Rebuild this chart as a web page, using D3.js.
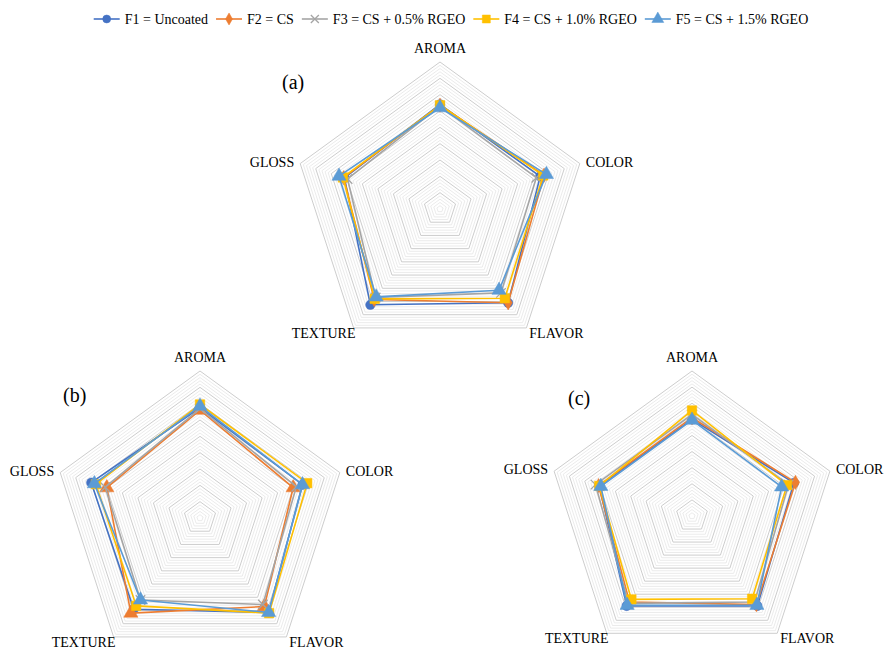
<!DOCTYPE html>
<html>
<head>
<meta charset="utf-8">
<script src="https://cdn.jsdelivr.net/npm/d3@7"></script>
<style>
  html, body { margin: 0; padding: 0; background: #ffffff; }
  svg { display: block; font-family: "Liberation Serif", "DejaVu Serif", serif; }
</style>
</head>
<body>
<svg id="chart" width="886" height="649"></svg>
<script>
// Sensory attributes, clockwise from the top
const categories = ["AROMA", "COLOR", "FLAVOR", "TEXTURE", "GLOSS"];

// Treatments
const seriesNames = ["F1 = Uncoated", "F2 = CS", "F3 = CS + 0.5% RGEO", "F4 = CS + 1.0% RGEO", "F5 = CS + 1.5% RGEO"];
const seriesColors = ["#4472C4", "#ED7D31", "#A5A5A5", "#FFC000", "#5B9BD5"];
const seriesMarkers = ["circle", "diamond", "x", "square", "triangle"];

// Hedonic score scale
const scaleMax = 9;
const majorTicks = [1, 2, 3, 4, 5, 6, 7, 8, 9];

// Scores per treatment (rows F1..F5), columns follow `categories`
const panelA = [
  [6.40, 6.45, 7.10, 7.25, 6.15],
  [6.35, 6.70, 7.10, 6.85, 6.20],
  [6.30, 6.20, 6.35, 6.70, 5.95],
  [6.35, 6.65, 6.75, 6.80, 6.25],
  [6.20, 6.85, 6.15, 6.65, 6.50]
];
const panelB = [
  [6.75, 6.60, 7.15, 6.90, 7.00],
  [6.60, 6.00, 6.70, 7.20, 6.00],
  [6.70, 6.20, 6.55, 6.20, 6.10],
  [6.95, 6.90, 7.20, 6.65, 6.70],
  [6.85, 6.60, 7.15, 6.20, 6.80]
];
const panelC = [
  [6.00, 6.65, 6.90, 6.90, 6.05],
  [6.10, 6.75, 6.80, 6.60, 6.10],
  [6.30, 6.30, 6.60, 6.70, 6.30],
  [6.55, 6.20, 6.35, 6.40, 6.05],
  [5.95, 5.85, 6.85, 6.85, 5.95]
];

const svg = d3.select("#chart");

function markerPath(kind, size) {
  if (kind === "x") {
    const h = size / 2;
    return `M${-h},${-h}L${h},${h}M${-h},${h}L${h},${-h}`;
  }
  const type = {
    circle: d3.symbolCircle,
    diamond: d3.symbolDiamond,
    square: d3.symbolSquare,
    triangle: d3.symbolTriangle
  }[kind];
  const area = { circle: 50, diamond: 42, square: 64, triangle: 62 }[kind];
  return d3.symbol(type, area * (size / 8) * (size / 8))();
}

function drawRadar(cfg) {
  const g = svg.append("g").attr("transform", `translate(${cfg.cx},${cfg.cy})`);
  const r = d3.scaleLinear().domain([0, scaleMax]).range([0, cfg.radius]);
  const angle = d3.scalePoint().domain(categories).range([0, 2 * Math.PI * (categories.length - 1) / categories.length]);
  const pt = (cat, v) => {
    const a = angle(cat) - Math.PI / 2;
    return [r(v) * Math.cos(a), r(v) * Math.sin(a)];
  };
  const ring = v => d3.line()(categories.map(c => pt(c, v)).concat([pt(categories[0], v)]));

  // minor gridlines every 0.2
  const minor = d3.range(0.2, scaleMax, 0.2).filter(v => Math.abs(v - Math.round(v)) > 1e-6);
  g.append("g").selectAll("path").data(minor).join("path")
    .attr("d", ring).attr("fill", "none").attr("stroke", "#e6e6e6").attr("stroke-width", 0.8);
  // major gridlines
  g.append("g").selectAll("path").data(majorTicks).join("path")
    .attr("d", ring).attr("fill", "none").attr("stroke", "#cdcdcd").attr("stroke-width", 1);

  // category labels placed around the outer ring vertices
  g.append("g").selectAll("text").data(categories).join("text")
    .each(function (c) {
      const [vx, vy] = pt(c, scaleMax);
      const a = angle(c) - Math.PI / 2;
      const cs = Math.cos(a), s = Math.sin(a);
      const t = d3.select(this);
      if (s < -0.9) {           // top
        t.attr("x", vx).attr("y", vy - 9).attr("text-anchor", "middle");
      } else if (s > 0.5) {     // bottom pair
        t.attr("x", vx + (cs > 0 ? 30 : -30)).attr("y", vy + 10).attr("text-anchor", "middle");
      } else {                  // sides
        t.attr("x", vx + (cs > 0 ? 6 : -6)).attr("y", vy + 3).attr("text-anchor", cs > 0 ? "start" : "end");
      }
    })
    .attr("font-size", 14).attr("fill", "#000").text(c => c);

  // series polygons with markers
  cfg.values.forEach((vals, i) => {
    const pts = categories.map((c, j) => pt(c, vals[j]));
    g.append("path")
      .attr("d", d3.line()(pts.concat([pts[0]])))
      .attr("fill", "none").attr("stroke", seriesColors[i]).attr("stroke-width", 1.6)
      .attr("stroke-linejoin", "round");
    const kind = (cfg.markers && cfg.markers[i]) || seriesMarkers[i];
    g.append("g").selectAll("path").data(pts).join("path")
      .attr("transform", d => `translate(${d[0]},${d[1]})`)
      .attr("d", markerPath(kind, 9.5))
      .attr("fill", kind === "x" ? "none" : seriesColors[i])
      .attr("stroke", seriesColors[i]).attr("stroke-width", kind === "x" ? 1.3 : 0.5);
  });

  svg.append("text").attr("x", cfg.tagX).attr("y", cfg.tagY)
    .attr("font-size", 20).attr("fill", "#000").text(cfg.tag);
}

drawRadar({ values: panelA, cx: 440, cy: 209, radius: 147, tag: "(a)", tagX: 282, tagY: 89 });
drawRadar({ values: panelB, cx: 200, cy: 518, radius: 147, tag: "(b)", tagX: 63, tagY: 402,
            markers: [null, "triangle", null, null, null] });
drawRadar({ values: panelC, cx: 692, cy: 516, radius: 145, tag: "(c)", tagX: 568, tagY: 405 });

// legend
const legend = svg.append("g").attr("transform", "translate(0,19)");
const items = legend.selectAll("g").data(seriesNames).join("g");
items.append("line").attr("x1", 0).attr("x2", 26).attr("stroke", (d, i) => seriesColors[i]).attr("stroke-width", 1.6);
items.append("path").attr("transform", "translate(13,0)")
  .attr("d", (d, i) => markerPath(seriesMarkers[i], 8))
  .attr("fill", (d, i) => seriesMarkers[i] === "x" ? "none" : seriesColors[i])
  .attr("stroke", (d, i) => seriesColors[i]).attr("stroke-width", (d, i) => seriesMarkers[i] === "x" ? 1.3 : 0.5);
items.append("text").attr("x", 31).attr("y", 5).attr("font-size", 14).attr("fill", "#000").text(d => d);
const widths = [];
items.each(function () { widths.push(d3.select(this).select("text").node().getComputedTextLength() + 31); });
const gap = 8;
const total = d3.sum(widths) + gap * (widths.length - 1);
let xPos = 451 - total / 2;
items.attr("transform", (d, i) => {
  const x = xPos;
  xPos += widths[i] + gap;
  return `translate(${x},0)`;
});
</script>
</body>
</html>
